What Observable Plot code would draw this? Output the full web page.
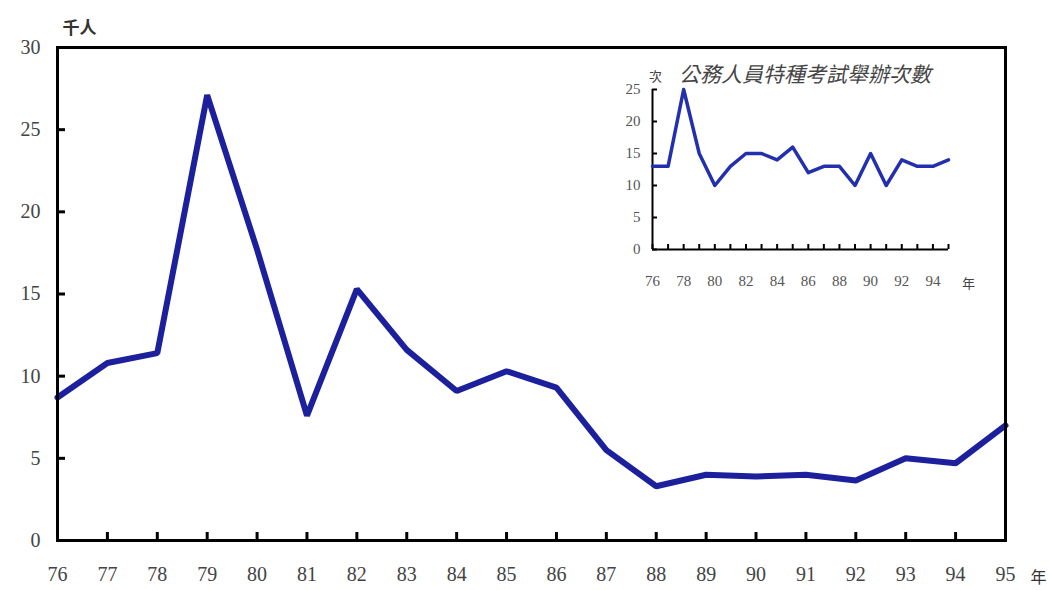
<!DOCTYPE html>
<html>
<head>
<meta charset="utf-8">
<script src="https://cdn.jsdelivr.net/npm/d3@7"></script>
<script src="https://cdn.jsdelivr.net/npm/@observablehq/plot@0.6"></script>
<style>
body { margin: 0; background: #fff; }
#wrap { position: relative; width: 1049px; height: 590px; }
#inset { position: absolute; left: 600px; top: 50px; }
</style>
</head>
<body>
<div id="wrap"><div id="main"></div><div id="inset"></div></div>
<script>
// Main series: 千人 by year (民國)
const years = [76,77,78,79,80,81,82,83,84,85,86,87,88,89,90,91,92,93,94,95];
const people = [8.7,10.8,11.4,27.1,17.7,7.6,15.3,11.6,9.1,10.3,9.3,5.5,3.3,4.0,3.9,4.0,3.65,5.0,4.7,7.0];
const yTicks = [0,5,10,15,20,25,30];
// Inset series: 公務人員特種考試舉辦次數
const insetYears = [76,77,78,79,80,81,82,83,84,85,86,87,88,89,90,91,92,93,94,95];
const exams = [13,13,25,15,10,13,15,15,14,16,12,13,13,10,15,10,14,13,13,14];
const insetXTicks = [76,78,80,82,84,86,88,90,92,94];
const insetYTicks = [0,5,10,15,20,25];

const mainData = years.map((y,i) => ({year: y, v: people[i]}));
const insetData = insetYears.map((y,i) => ({year: y, v: exams[i]}));

const numFont = "'Liberation Serif', serif";
const cjkFont = "'Noto Sans CJK TC', sans-serif";

const main = Plot.plot({
  width: 1049, height: 590,
  marginLeft: 57, marginRight: 44, marginTop: 47, marginBottom: 50,
  style: {fontFamily: numFont, fontSize: "20px", color: "#333", background: "#fff"},
  x: {domain: [76, 95], label: null},
  y: {domain: [0, 30], label: null},
  marks: [
    Plot.axisY({ticks: yTicks, tickSize: 0, tickPadding: 17, fontSize: 20, fill: "#444", label: null}),
    Plot.axisY({ticks: yTicks, tickSize: -8, tickFormat: () => "", strokeWidth: 3, stroke: "#000", label: null}),
    Plot.axisX({ticks: years, tickSize: 0, tickPadding: 26, fontSize: 20, fill: "#444", label: null}),
    Plot.axisX({ticks: years, tickSize: -8, tickFormat: () => "", strokeWidth: 3, stroke: "#000", label: null}),
    Plot.line(mainData, {x: "year", y: "v", stroke: "#1c209c", strokeWidth: 6, strokeLinejoin: "miter"}),
    Plot.frame({stroke: "#000", strokeWidth: 3}),
    Plot.text(["年"], {x: () => 95, y: () => 0, dx: 33, dy: 37, fontFamily: cjkFont, fontSize: 16, fill: "#333"}),
    Plot.text(["千人"], {x: () => 76, y: () => 30, dx: 22, dy: -19, fontFamily: cjkFont, fontSize: 17, fontWeight: "bold", fill: "#333"})
  ]
});
document.getElementById("main").append(main);

const inset = Plot.plot({
  width: 400, height: 250,
  marginLeft: 52, marginRight: 52, marginTop: 39, marginBottom: 51,
  style: {fontFamily: numFont, fontSize: "15px", color: "#333", background: "transparent"},
  x: {domain: [76, 95], label: null},
  y: {domain: [0, 25], label: null},
  marks: [
    Plot.axisY({ticks: insetYTicks, tickSize: 0, tickPadding: 12, fontSize: 15, fill: "#555", label: null}),
    Plot.axisY({ticks: insetYTicks, tickSize: -5, tickFormat: () => "", strokeWidth: 2, stroke: "#000", label: null}),
    Plot.axisX({ticks: insetXTicks, tickSize: 0, tickPadding: 26, fontSize: 15, fill: "#555", label: null}),
    Plot.axisX({ticks: insetYears, tickSize: -5, tickFormat: () => "", strokeWidth: 2, stroke: "#000", label: null}),
    Plot.ruleX([76], {stroke: "#000", strokeWidth: 2}),
    Plot.ruleY([0], {stroke: "#000", strokeWidth: 2}),
    Plot.line(insetData, {x: "year", y: "v", stroke: "#2230b0", strokeWidth: 3.5}),
    Plot.text(["年"], {x: () => 95, y: () => 0, dx: 20, dy: 34, fontFamily: cjkFont, fontSize: 13, fill: "#444"}),
    Plot.text(["次"], {x: () => 76, y: () => 25, dx: 3, dy: -13, fontFamily: cjkFont, fontSize: 13, fill: "#444"}),
    Plot.text(["公務人員特種考試舉辦次數"], {x: () => 77.7, y: () => 25, dy: -14, textAnchor: "start", fontFamily: cjkFont, fontSize: 21, fontStyle: "italic", fill: "#444"})
  ]
});
document.getElementById("inset").append(inset);
</script>
</body>
</html>
